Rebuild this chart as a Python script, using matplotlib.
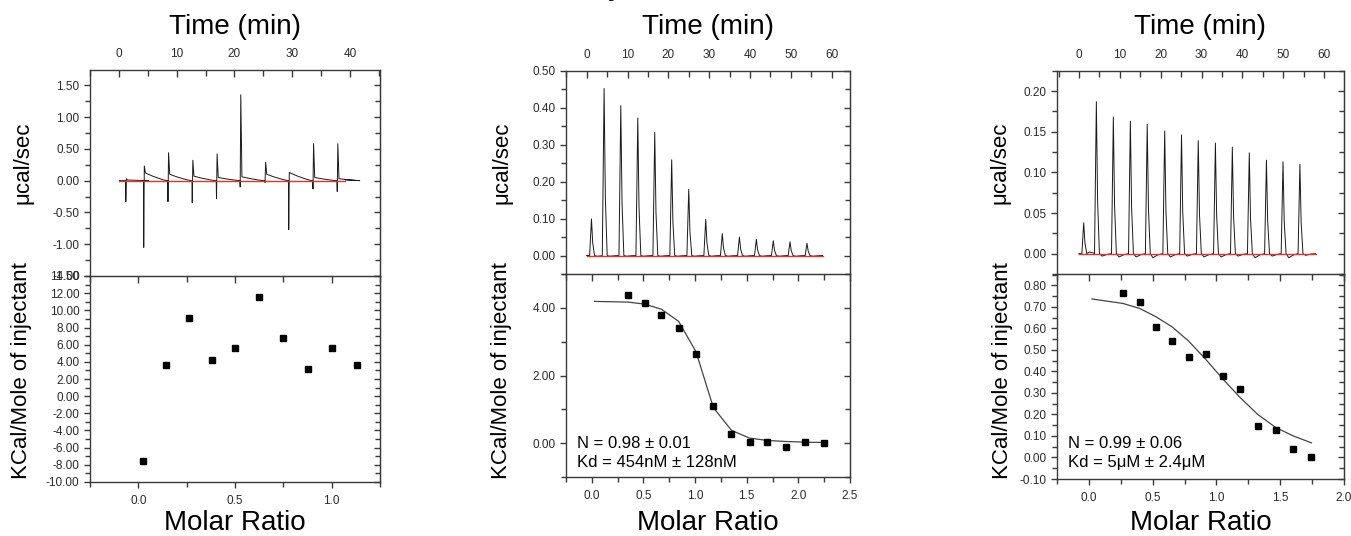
import numpy as np
import matplotlib
matplotlib.use("Agg")
import matplotlib.pyplot as plt
from matplotlib.ticker import MultipleLocator, FormatStrFormatter

plt.rcParams['font.family'] = ['Liberation Sans', 'DejaVu Sans']

W, H = 1351, 536

# ── panel 1: raw heats (time in min, power in ucal/sec) ──────────
p1_inj_t = [1.2, 4.3, 8.5, 12.7, 16.9, 21.0, 25.3, 29.4, 33.6, 37.8]
p1_down = [-0.33, -1.05, -0.33, -0.35, -0.28, -0.10, -0.03, -0.77, -0.13, -0.17]
p1_up = [0.03, 0.23, 0.44, 0.32, 0.42, 1.35, 0.29, 0.13, 0.58, 0.58]
p1_tail = [0.01, 0.12, 0.10, 0.07, 0.05, 0.06, 0.10, 0.12, 0.05, 0.03]
p1_base = [0.1, 39.2]

# panel 1: integrated heats
p1_ratio = [0.026, 0.143, 0.261, 0.380, 0.502, 0.624, 0.749, 0.875, 1.000, 1.129]
p1_heat = [-7.52, 3.62, 9.05, 4.24, 5.60, 11.50, 6.76, 3.15, 5.60, 3.58]

# ── panel 2 ──────────────────────────────────────────────────────
p2_inj_t = [1.14, 4.24, 8.33, 12.49, 16.65, 20.8, 24.98, 29.14, 33.2, 37.4,
            41.55, 45.7, 49.8, 53.96]
p2_peak = [0.099, 0.452, 0.405, 0.372, 0.333, 0.259, 0.179, 0.098, 0.059,
           0.050, 0.044, 0.040, 0.037, 0.033]
p2_dip = [-0.002] * 14
p2_base = [0.0, 57.8]

p2_ratio = [0.349, 0.511, 0.673, 0.841, 1.009, 1.177, 1.352, 1.527, 1.701,
            1.879, 2.060, 2.244]
p2_heat = [4.38, 4.13, 3.79, 3.41, 2.63, 1.10, 0.28, 0.03, 0.03, -0.11, 0.03, 0.00]
p2_fit_x = [0.026, 0.349, 0.511, 0.673, 0.841, 1.009, 1.177, 1.352, 1.527,
            1.701, 1.879, 2.060, 2.244]
p2_fit_y = [4.19, 4.17, 4.11, 3.96, 3.60, 2.70, 1.05, 0.38, 0.15, 0.08, 0.05,
            0.03, 0.02]

# ── panel 3 ──────────────────────────────────────────────────────
p3_inj_t = [1.14, 4.24, 8.4, 12.57, 16.7, 20.98, 25.1, 29.2, 33.4, 37.55,
            41.7, 45.9, 49.96, 54.1]
p3_peak = [0.038, 0.187, 0.168, 0.163, 0.159, 0.151, 0.146, 0.139, 0.136,
           0.131, 0.124, 0.115, 0.113, 0.110]
p3_dip = [0.002, -0.003, -0.004, -0.004, -0.005, -0.004, -0.003, -0.004,
          -0.004, -0.003, -0.005, -0.003, -0.005, -0.002]
p3_base = [0.0, 58.0]

p3_ratio = [0.268, 0.397, 0.524, 0.653, 0.784, 0.918, 1.050, 1.187, 1.324,
            1.463, 1.603, 1.745]
p3_heat = [0.764, 0.723, 0.608, 0.541, 0.467, 0.479, 0.379, 0.317, 0.148,
           0.129, 0.038, 0.002]
p3_fit_x = [0.024, 0.268, 0.397, 0.524, 0.653, 0.784, 0.918, 1.050, 1.187,
            1.324, 1.463, 1.603, 1.745]
p3_fit_y = [0.737, 0.716, 0.693, 0.655, 0.607, 0.540, 0.455, 0.365, 0.278,
            0.200, 0.140, 0.100, 0.068]

p2_text = ["N = 0.98 ± 0.01", "Kd = 454nM ± 128nM"]
p3_text = ["N = 0.99 ± 0.06", "Kd = 5μM ± 2.4μM"]

AX_COL = '#3a3a3a'
TICK_COL = '#2a2a2a'


def rect(l, r, t, b):
    return [l / W, 1 - b / H, (r - l) / W, (b - t) / H]


def spike_trace(times, peaks, dips):
    """narrow exothermic peaks on a flat baseline"""
    xs, ys = [times[0] - 1.2], [0.0]
    for t, h, d in zip(times, peaks, dips):
        xs += [t - 0.45, t, t + 0.3, t + 0.75, t + 1.4, t + 2.6]
        ys += [0.0, h, h * 0.35, 0.0, d, d * 0.3]
    xs.append(times[-1] + 3.8)
    ys.append(0.0)
    return xs, ys


def spike_trace_p1(times, down, up, tail):
    xs, ys = [0.1], [0.0]
    for t, d, u, p in zip(times, down, up, tail):
        xs += [t - 0.05, t, t + 0.1, t + 0.3, t + 1.5, t + 3.0, t + 3.9]
        ys += [0.0, d, u, p, p * 0.6, p * 0.2, 0.0]
    xs.append(39.2)
    ys.append(0.01)
    return xs, ys


def style_axes(ax, top_panel):
    for s in ax.spines.values():
        s.set_color(AX_COL)
        s.set_linewidth(1.0)
    ax.tick_params(axis='y', which='both', left=True, right=False,
                   direction='out', colors=AX_COL, labelcolor=TICK_COL,
                   labelsize=8.5, width=1.0)
    ax.tick_params(axis='y', which='major', length=4)
    ax.tick_params(axis='y', which='minor', length=3.5)
    sec = ax.secondary_yaxis('right')
    sec.tick_params(axis='y', which='both', direction='in', colors=AX_COL,
                    labelright=False, width=1.0)
    sec.tick_params(which='major', length=4)
    sec.tick_params(which='minor', length=3.5)
    sec.yaxis.set_major_locator(ax.yaxis.get_major_locator())
    sec.yaxis.set_minor_locator(ax.yaxis.get_minor_locator())
    sec.spines['right'].set_color(AX_COL)
    if top_panel:
        ax.xaxis.set_ticks_position('top')
        ax.xaxis.set_label_position('top')
        ax.tick_params(axis='x', which='both', top=True, bottom=False,
                       labeltop=True, labelbottom=False, direction='in',
                       colors=AX_COL, labelcolor=TICK_COL, labelsize=8.5,
                       width=1.0, pad=7)
        ax.tick_params(axis='x', which='major', length=5)
        ax.tick_params(axis='x', which='minor', length=4)
    else:
        ax.tick_params(axis='x', which='both', top=False, bottom=True,
                       direction='out', colors=AX_COL, labelcolor=TICK_COL,
                       labelsize=8.5, width=1.0, pad=5)
        ax.tick_params(axis='x', which='major', length=4.5)
        ax.tick_params(axis='x', which='minor', length=3.5)
        sx = ax.secondary_xaxis('top')
        sx.tick_params(axis='x', which='both', direction='in', colors=AX_COL,
                       labeltop=False, width=1.0)
        sx.tick_params(which='major', length=5)
        sx.tick_params(which='minor', length=4)
        sx.xaxis.set_major_locator(ax.xaxis.get_major_locator())
        sx.xaxis.set_minor_locator(ax.xaxis.get_minor_locator())
        sx.spines['top'].set_color(AX_COL)


fig = plt.figure(figsize=(W / 100, H / 100), dpi=100)

panels = [
    dict(l=90, r=380, t=70, m=276, b=482,
         tx=(-5, 45.2), ty=(-1.5, 1.74), tymaj=0.5, tymin=0.25, tyfmt='%.2f',
         bx=(-0.25, 1.25), by=(-10, 14), bymaj=2, bymin=1, byfmt='%.2f'),
    dict(l=566, r=850, t=70.7, m=274, b=477,
         tx=(-5.1, 64.5), ty=(-0.05, 0.5), tymaj=0.1, tymin=0.05, tyfmt='%.2f',
         bx=(-0.25, 2.5), by=(-1, 5), bymaj=2, bymin=1, byfmt='%.2f'),
    dict(l=1057, r=1344, t=70.7, m=274, b=479,
         tx=(-5.4, 64.9), ty=(-0.025, 0.225), tymaj=0.05, tymin=0.025, tyfmt='%.2f',
         bx=(-0.25, 2.0), by=(-0.1, 0.853), bymaj=0.1, bymin=0.05, byfmt='%.2f'),
]

ylab_x = [[23, 22], [502, 502], [1000, 1002]]

for i, P in enumerate(panels):
    axt = fig.add_axes(rect(P['l'], P['r'], P['t'], P['m']))
    axb = fig.add_axes(rect(P['l'], P['r'], P['m'], P['b']))

    # top: thermogram
    if i == 0:
        xs, ys = spike_trace_p1(p1_inj_t, p1_down, p1_up, p1_tail)
        base = p1_base
    elif i == 1:
        xs, ys = spike_trace(p2_inj_t, p2_peak, p2_dip)
        base = p2_base
    else:
        xs, ys = spike_trace(p3_inj_t, p3_peak, p3_dip)
        base = p3_base
    axt.plot(xs, ys, color='#1a1a1a', lw=0.7)
    axt.plot(base, [0, 0], color='#e0342c', lw=1.0)
    axt.set_xlim(*P['tx'])
    axt.set_ylim(*P['ty'])
    axt.xaxis.set_major_locator(MultipleLocator(10))
    axt.xaxis.set_minor_locator(MultipleLocator(5))
    axt.yaxis.set_major_locator(MultipleLocator(P['tymaj']))
    axt.yaxis.set_minor_locator(MultipleLocator(P['tymin']))
    axt.yaxis.set_major_formatter(FormatStrFormatter(P['tyfmt']))
    axt.spines['bottom'].set_visible(False)
    style_axes(axt, True)

    # bottom: integrated heats
    if i == 0:
        axb.plot(p1_ratio, p1_heat, 's', color='black', ms=4.8)
    elif i == 1:
        axb.plot(p2_fit_x, p2_fit_y, color='#444444', lw=0.9)
        axb.plot(p2_ratio, p2_heat, 's', color='black', ms=4.8)
        axb.text(-0.14, 0.0, p2_text[0], fontsize=12, va='center')
        axb.text(-0.14, -0.56, p2_text[1], fontsize=12, va='center')
    else:
        axb.plot(p3_fit_x, p3_fit_y, color='#444444', lw=0.9)
        axb.plot(p3_ratio, p3_heat, 's', color='black', ms=4.8)
        axb.text(-0.16, 0.066, p3_text[0], fontsize=12, va='center')
        axb.text(-0.16, -0.024, p3_text[1], fontsize=12, va='center')
    axb.set_xlim(*P['bx'])
    axb.set_ylim(*P['by'])
    axb.xaxis.set_major_locator(MultipleLocator(0.5))
    axb.xaxis.set_minor_locator(MultipleLocator(0.25))
    axb.xaxis.set_major_formatter(FormatStrFormatter('%.1f'))
    axb.yaxis.set_major_locator(MultipleLocator(P['bymaj']))
    axb.yaxis.set_minor_locator(MultipleLocator(P['bymin']))
    axb.yaxis.set_major_formatter(FormatStrFormatter(P['byfmt']))
    style_axes(axb, False)

    cx = (P['l'] + P['r']) / 2 / W
    fig.text(cx, 1 - 27 / H, 'Time (min)', fontsize=20, ha='center', va='center')
    fig.text(cx, 1 - 523 / H, 'Molar Ratio', fontsize=20, ha='center', va='center')
    fig.text(ylab_x[i][0] / W, 1 - 163 / H, 'μcal/sec', fontsize=16,
             rotation=90, ha='center', va='center')
    fig.text(ylab_x[i][1] / W, 1 - 371 / H, 'KCal/Mole of injectant', fontsize=16,
             rotation=90, ha='center', va='center')

# clipped descender of a title above the frame
fig.text(616 / W, 1 + 6 / H, 'y', fontsize=24, ha='center', va='baseline')

fig.savefig('out.png', dpi=100)
